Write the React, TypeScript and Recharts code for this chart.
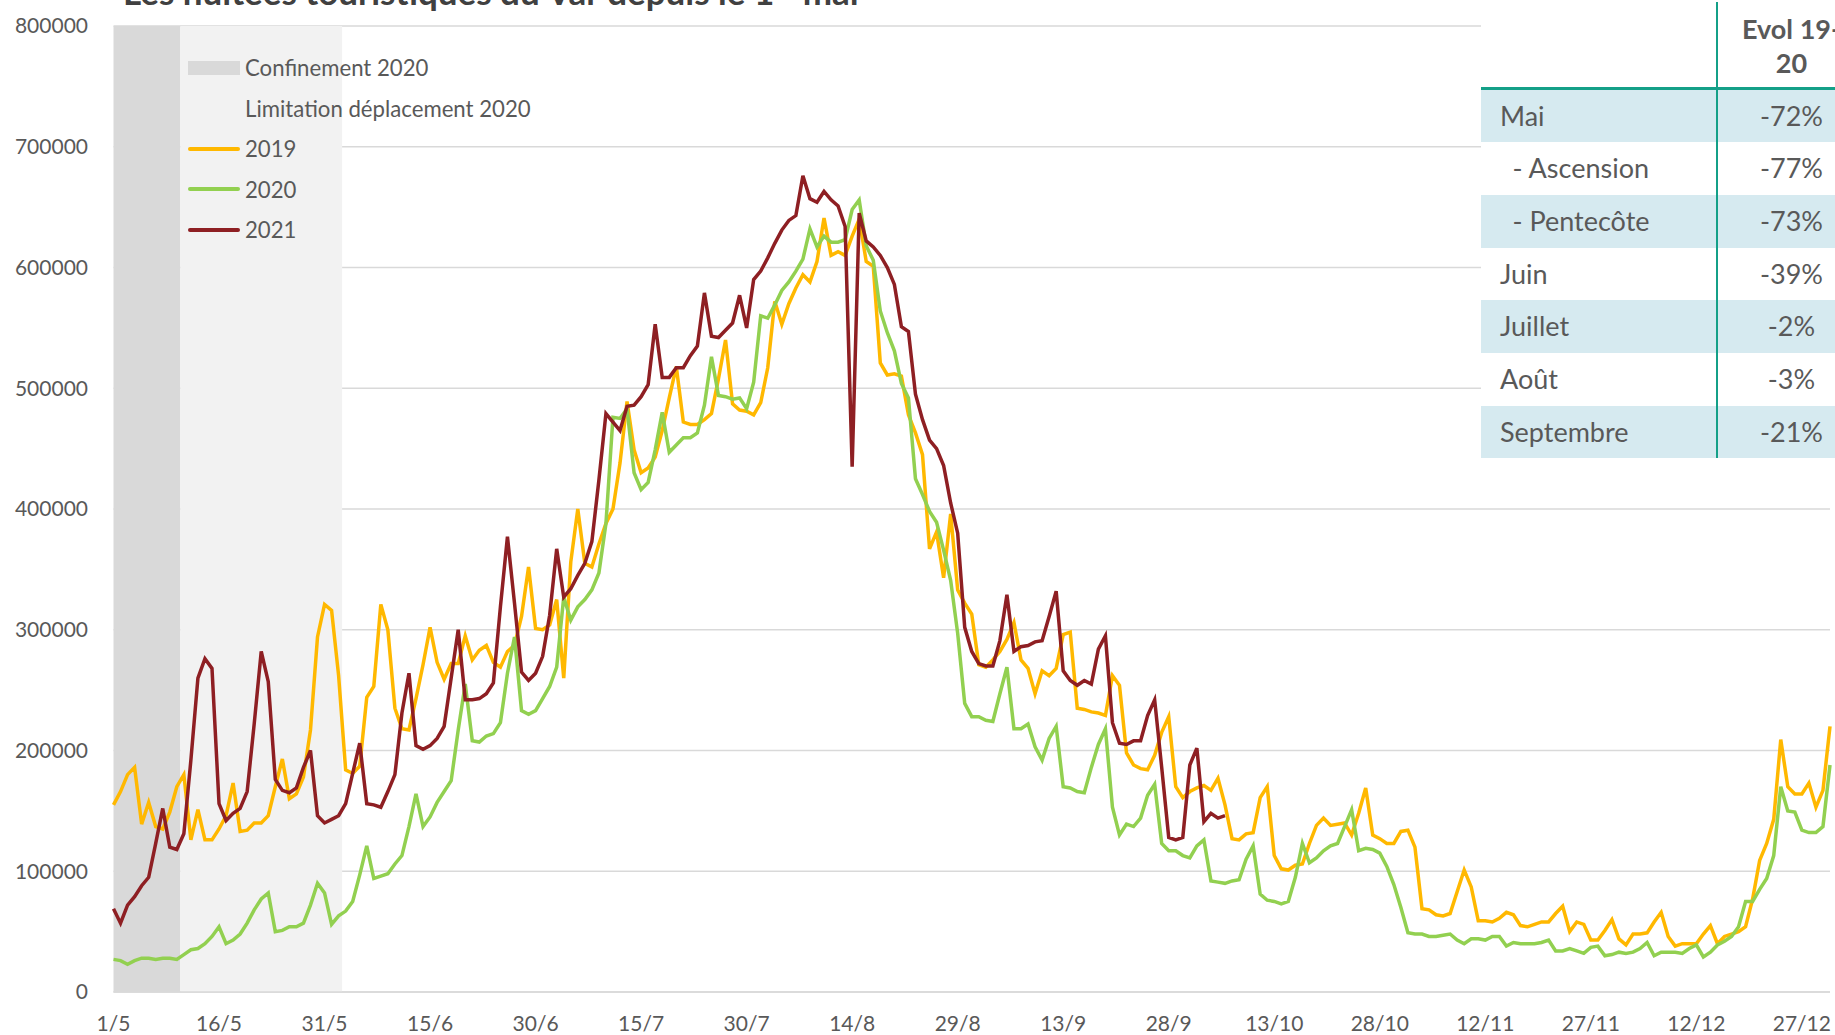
import { LineChart, Line, XAxis, YAxis, CartesianGrid, ReferenceArea } from 'recharts';

// Nuitées touristiques du Var, du 1er mai au 31 décembre (un point par jour)
const tickDays = [0, 15, 30, 45, 60, 75, 90, 105, 120, 135, 150, 165, 180, 195, 210, 225, 240];
const tickLabels = ['1/5', '16/5', '31/5', '15/6', '30/6', '15/7', '30/7', '14/8', '29/8', '13/9', '28/9', '13/10', '28/10', '12/11', '27/11', '12/12', '27/12'];
const yTicks = [0, 100000, 200000, 300000, 400000, 500000, 600000, 700000, 800000];

// confinement : 1/5 -> 10/5, limitation des déplacements : 11/5 -> 2/6 (index de jour)
const finConfinement = 9.5;
const finLimitation = 32.5;

const nuitees2019 = [
    155e3, 166e3, 180e3, 186e3, 139e3, 157e3, 137e3, 135e3, 149e3, 170e3,
    180e3, 126e3, 151e3, 126e3, 126e3, 135e3, 146e3, 173e3, 133e3, 134e3,
    140e3, 140e3, 146e3, 170e3, 193e3, 160e3, 164e3, 178e3, 217e3, 294e3,
    321e3, 316e3, 262e3, 184e3, 181e3, 187e3, 244e3, 253e3, 321e3, 300e3,
    235e3, 218e3, 217e3, 243e3, 271e3, 302e3, 273e3, 259e3, 272e3, 272e3,
    295e3, 275e3, 283e3, 287e3, 273e3, 269e3, 282e3, 287e3, 311e3, 352e3,
    301e3, 300e3, 304e3, 325e3, 260e3, 356e3, 400e3, 355e3, 352e3, 371e3,
    388e3, 400e3, 438e3, 489e3, 449e3, 430e3, 434e3, 443e3, 465e3, 492e3,
    518e3, 472e3, 470e3, 470e3, 474e3, 479e3, 508e3, 540e3, 487e3, 482e3,
    481e3, 478e3, 488e3, 517e3, 572e3, 553e3, 570e3, 583e3, 594e3, 588e3,
    605e3, 641e3, 610e3, 613e3, 610e3, 626e3, 640e3, 605e3, 601e3, 521e3,
    511e3, 512e3, 510e3, 478e3, 463e3, 445e3, 367e3, 381e3, 343e3, 396e3,
    333e3, 322e3, 313e3, 271e3, 269e3, 275e3, 282e3, 292e3, 306e3, 275e3,
    268e3, 247e3, 266e3, 262e3, 268e3, 296e3, 298e3, 235e3, 234e3, 232e3,
    231e3, 229e3, 262e3, 254e3, 198e3, 188e3, 185e3, 184e3, 196e3, 215e3,
    228e3, 170e3, 161e3, 166e3, 169e3, 171e3, 167e3, 177e3, 155e3, 127e3,
    126e3, 131e3, 132e3, 161e3, 170e3, 113e3, 102e3, 101e3, 105e3, 106e3,
    123e3, 138e3, 144e3, 138e3, 139e3, 140e3, 130e3, 148e3, 169e3, 130e3,
    127e3, 123e3, 123e3, 133e3, 134e3, 120e3, 69e3, 68e3, 64e3, 63e3,
    65e3, 83e3, 101e3, 87e3, 59e3, 59e3, 58e3, 61e3, 66e3, 64e3,
    55e3, 54e3, 56e3, 58e3, 58e3, 65e3, 71e3, 50e3, 58e3, 56e3,
    43e3, 43e3, 51e3, 60e3, 44e3, 39e3, 48e3, 48e3, 49e3, 58e3,
    66e3, 46e3, 38e3, 40e3, 40e3, 40e3, 48e3, 55e3, 40e3, 46e3,
    48e3, 50e3, 54e3, 77e3, 109e3, 123e3, 143e3, 209e3, 170e3, 164e3,
    164e3, 173e3, 153e3, 167e3, 220e3,
];

const nuitees2020 = [
    27e3, 26e3, 23e3, 26e3, 28e3, 28e3, 27e3, 28e3, 28e3, 27e3,
    31e3, 35e3, 36e3, 40e3, 46e3, 54e3, 40e3, 43e3, 48e3, 57e3,
    68e3, 77e3, 82e3, 50e3, 51e3, 54e3, 54e3, 57e3, 72e3, 90e3,
    82e3, 56e3, 63e3, 67e3, 75e3, 97e3, 121e3, 94e3, 96e3, 98e3,
    106e3, 113e3, 137e3, 164e3, 137e3, 145e3, 157e3, 166e3, 175e3, 217e3,
    255e3, 208e3, 207e3, 212e3, 214e3, 223e3, 264e3, 294e3, 233e3, 230e3,
    233e3, 243e3, 253e3, 269e3, 327e3, 308e3, 319e3, 325e3, 333e3, 347e3,
    388e3, 476e3, 475e3, 483e3, 430e3, 416e3, 422e3, 449e3, 480e3, 447e3,
    453e3, 459e3, 459e3, 463e3, 486e3, 526e3, 494e3, 493e3, 491e3, 492e3,
    483e3, 505e3, 560e3, 558e3, 569e3, 581e3, 588e3, 597e3, 607e3, 632e3,
    617e3, 626e3, 621e3, 621e3, 623e3, 648e3, 656e3, 618e3, 606e3, 564e3,
    546e3, 531e3, 504e3, 492e3, 425e3, 412e3, 398e3, 389e3, 366e3, 341e3,
    297e3, 239e3, 228e3, 228e3, 225e3, 224e3, 247e3, 269e3, 218e3, 218e3,
    222e3, 203e3, 192e3, 210e3, 220e3, 170e3, 169e3, 166e3, 165e3, 186e3,
    205e3, 218e3, 153e3, 130e3, 139e3, 137e3, 144e3, 163e3, 172e3, 123e3,
    117e3, 117e3, 113e3, 111e3, 121e3, 126e3, 92e3, 91e3, 90e3, 92e3,
    93e3, 110e3, 121e3, 81e3, 76e3, 75e3, 73e3, 75e3, 95e3, 123e3,
    107e3, 111e3, 117e3, 121e3, 123e3, 137e3, 151e3, 117e3, 119e3, 118e3,
    115e3, 104e3, 89e3, 70e3, 49e3, 48e3, 48e3, 46e3, 46e3, 47e3,
    48e3, 43e3, 40e3, 44e3, 44e3, 43e3, 46e3, 46e3, 38e3, 41e3,
    40e3, 40e3, 40e3, 41e3, 43e3, 34e3, 34e3, 36e3, 34e3, 32e3,
    37e3, 38e3, 30e3, 31e3, 33e3, 32e3, 33e3, 36e3, 41e3, 30e3,
    33e3, 33e3, 33e3, 32e3, 36e3, 39e3, 29e3, 33e3, 39e3, 42e3,
    46e3, 54e3, 75e3, 75e3, 85e3, 94e3, 113e3, 170e3, 150e3, 149e3,
    134e3, 132e3, 132e3, 137e3, 188e3,
];

const nuitees2021 = [
    69e3, 57e3, 72e3, 79e3, 88e3, 95e3, 123e3, 152e3, 120e3, 118e3,
    131e3, 192e3, 260e3, 276e3, 268e3, 156e3, 142e3, 148e3, 152e3, 166e3,
    222e3, 282e3, 257e3, 176e3, 167e3, 165e3, 169e3, 186e3, 200e3, 146e3,
    140e3, 143e3, 146e3, 156e3, 181e3, 206e3, 156e3, 155e3, 153e3, 166e3,
    180e3, 231e3, 264e3, 204e3, 201e3, 204e3, 210e3, 220e3, 260e3, 300e3,
    242e3, 242e3, 243e3, 247e3, 256e3, 319e3, 377e3, 322e3, 265e3, 258e3,
    264e3, 278e3, 312e3, 367e3, 327e3, 334e3, 345e3, 355e3, 373e3, 424e3,
    479e3, 472e3, 465e3, 485e3, 486e3, 493e3, 503e3, 553e3, 509e3, 509e3,
    517e3, 517e3, 527e3, 535e3, 579e3, 543e3, 542e3, 548e3, 554e3, 577e3,
    550e3, 590e3, 597e3, 608e3, 620e3, 631e3, 639e3, 643e3, 676e3, 657e3,
    654e3, 663e3, 656e3, 651e3, 634e3, 435e3, 645e3, 622e3, 617e3, 610e3,
    600e3, 586e3, 551e3, 547e3, 495e3, 474e3, 457e3, 450e3, 436e3, 405e3,
    380e3, 302e3, 282e3, 272e3, 270e3, 270e3, 291e3, 329e3, 282e3, 286e3,
    287e3, 290e3, 291e3, 311e3, 332e3, 266e3, 258e3, 254e3, 258e3, 255e3,
    284e3, 295e3, 223e3, 206e3, 205e3, 208e3, 208e3, 229e3, 242e3, 186e3,
    128e3, 126e3, 128e3, 188e3, 202e3, 141e3, 148e3, 144e3, 146e3,
];

// tableau d'évolution 2019-2020
const evolLabels = ['Mai', '- Ascension', '- Pentecôte', 'Juin', 'Juillet', 'Août', 'Septembre'];
const evolValues = ['-72%', '-77%', '-73%', '-39%', '-2%', '-3%', '-21%'];
const evolIndent = [false, true, true, false, false, false, false];

const FONT = 'Lato, "Open Sans", sans-serif';
const TEXT = '#595959';
const C2019 = '#FFB800';
const C2020 = '#92D050';
const C2021 = '#8E1F23';
const TEAL = '#14A088';

const data = nuitees2019.map((v, i) => ({
    jour: i,
    a2019: v,
    a2020: nuitees2020[i],
    a2021: nuitees2021[i],
}));

function Legende() {
    const items = [
        { label: 'Confinement 2020', rect: true, color: '#D9D9D9' },
        { label: 'Limitation déplacement 2020', rect: true, color: '#F2F2F2' },
        { label: '2019', rect: false, color: C2019 },
        { label: '2020', rect: false, color: C2020 },
        { label: '2021', rect: false, color: C2021 },
    ];
    return (
        <div style={{ position: 'absolute', left: 188, top: 47, fontFamily: FONT, fontSize: 22.2, color: TEXT }}>
            {items.map((it, i) => (
                <div
                    key={it.label}
                    style={{ position: 'absolute', top: i * 40.5, left: 0, height: 41, display: 'flex', alignItems: 'center', whiteSpace: 'nowrap' }}
                >
                    <span
                        style={{
                            display: 'inline-block',
                            width: 52,
                            height: it.rect ? 14 : 4,
                            background: it.color,
                            borderRadius: it.rect ? 0 : 2,
                            marginRight: 5,
                        }}
                    />
                    {it.label}
                </div>
            ))}
        </div>
    );
}

function TableauEvol() {
    const rowTop = 89.5;
    const rowH = 52.7;
    return (
        <div
            style={{
                position: 'absolute',
                left: 1481,
                top: 0,
                width: 354,
                height: rowTop + rowH * evolLabels.length,
                background: '#fff',
                overflow: 'hidden',
                fontFamily: FONT,
                color: TEXT,
            }}
        >
            <div style={{ position: 'absolute', left: 236, width: 149, top: 12, textAlign: 'center', fontWeight: 700, fontSize: 27, lineHeight: '34px' }}>
                Evol 19-
                <br />
                20
            </div>
            {evolLabels.map((lab, i) => (
                <div
                    key={lab}
                    style={{
                        position: 'absolute',
                        left: 0,
                        top: rowTop + i * rowH,
                        width: 354,
                        height: rowH,
                        background: i % 2 === 0 ? '#D6EAF0' : '#fff',
                        fontSize: 27,
                    }}
                >
                    <div style={{ position: 'absolute', left: evolIndent[i] ? 31.5 : 19, top: 0, lineHeight: rowH + 'px' }}>{lab}</div>
                    <div style={{ position: 'absolute', left: 236, width: 149, top: 0, textAlign: 'center', lineHeight: rowH + 'px' }}>
                        {evolValues[i]}
                    </div>
                </div>
            ))}
            <div style={{ position: 'absolute', left: 0, top: 87.2, width: 354, height: 2.5, background: TEAL }} />
            <div style={{ position: 'absolute', left: 234.5, top: 2, width: 2.4, height: rowTop + rowH * evolLabels.length - 2, background: TEAL }} />
        </div>
    );
}

export default function App() {
    return (
        <div style={{ position: 'absolute', left: 0, top: 0, width: 1835, height: 1035, overflow: 'hidden', background: '#fff' }}>
            <LineChart width={1835} height={1035} data={data} margin={{ top: 26, right: 5, bottom: 0, left: 0 }}>
                <CartesianGrid vertical={false} stroke="#D9D9D9" strokeWidth={1.5} />
                <ReferenceArea x1={0} x2={finConfinement} fill="#D9D9D9" fillOpacity={1} stroke="none" />
                <ReferenceArea x1={finConfinement} x2={finLimitation} fill="#F2F2F2" fillOpacity={1} stroke="none" />
                <XAxis
                    dataKey="jour"
                    type="number"
                    domain={[0, 244]}
                    ticks={tickDays}
                    tickFormatter={(d: number) => tickLabels[tickDays.indexOf(d)]}
                    interval={0}
                    height={43}
                    tickLine={false}
                    tickSize={0}
                    tickMargin={24}
                    axisLine={{ stroke: '#D9D9D9', strokeWidth: 1.5 }}
                    tick={{ fill: TEXT, fontSize: 21, fontFamily: FONT }}
                />
                <YAxis
                    domain={[0, 800000]}
                    ticks={yTicks}
                    interval={0}
                    width={113.5}
                    axisLine={false}
                    tickLine={false}
                    tickSize={0}
                    tickMargin={25.5}
                    tick={{ fill: TEXT, fontSize: 21, fontFamily: FONT }}
                />
                <Line type="linear" dataKey="a2019" stroke={C2019} strokeWidth={3.5} dot={false} isAnimationActive={false} />
                <Line type="linear" dataKey="a2020" stroke={C2020} strokeWidth={3.5} dot={false} isAnimationActive={false} />
                <Line type="linear" dataKey="a2021" stroke={C2021} strokeWidth={3.5} dot={false} isAnimationActive={false} />
            </LineChart>
            <svg width={1835} height={40} style={{ position: 'absolute', left: 0, top: 0 }}>
                <text x={123} y={5} fontFamily={FONT} fontWeight={700} fontSize={35} fill="#404040">
                    Les nuitées touristiques du Var depuis le 1
                    <tspan fontSize={22} dy={-13}>er</tspan>
                    <tspan dy={13}> mai</tspan>
                </text>
            </svg>
            <Legende />
            <TableauEvol />
        </div>
    );
}
